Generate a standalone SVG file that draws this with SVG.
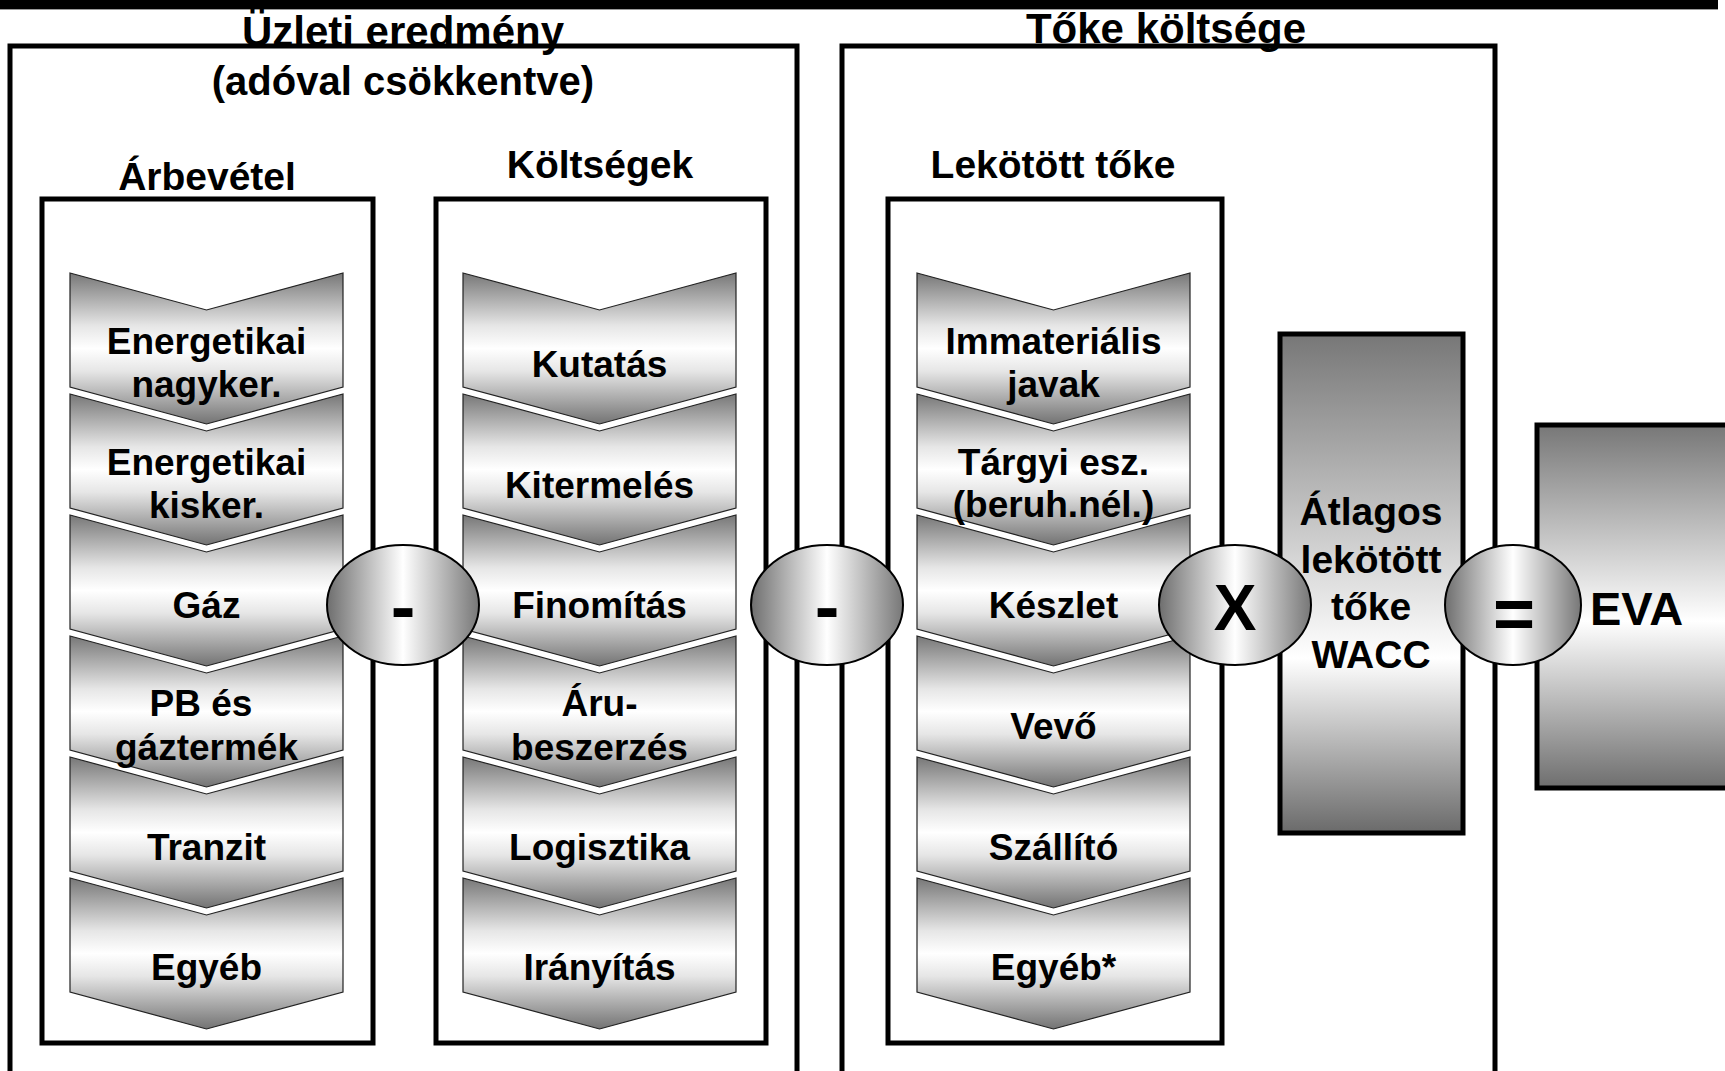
<svg xmlns="http://www.w3.org/2000/svg" xmlns:xlink="http://www.w3.org/1999/xlink" width="1725" height="1071" viewBox="0 0 1725 1071">
  <style>
    .frame { fill: none; stroke: #000; stroke-width: 5; }
    .t { font-family: "Liberation Sans", Arial, sans-serif; font-weight: bold; fill: #000; text-anchor: middle; }
    .title { font-size: 42px; }
    .sub { font-size: 39px; }
    .lbl { font-size: 37px; }
    .op { stroke: #000; stroke-width: 2; fill: url(#gOp); }
  </style>
  <defs>
    <linearGradient id="gChev" x1="0" y1="0" x2="0" y2="1">
      <stop offset="0" stop-color="#777"/>
      <stop offset="0.35" stop-color="#e6e6e6"/>
      <stop offset="0.5" stop-color="#fff"/>
      <stop offset="0.65" stop-color="#e6e6e6"/>
      <stop offset="1" stop-color="#737373"/>
    </linearGradient>
    <linearGradient id="gOp" x1="0" y1="0" x2="1" y2="0">
      <stop offset="0" stop-color="#6e6e6e"/>
      <stop offset="0.5" stop-color="#fff"/>
      <stop offset="1" stop-color="#777"/>
    </linearGradient>
    <linearGradient id="gWacc" x1="0" y1="0" x2="0" y2="1">
      <stop offset="0" stop-color="#777"/>
      <stop offset="0.65" stop-color="#fff"/>
      <stop offset="1" stop-color="#6a6a6a"/>
    </linearGradient>
    <linearGradient id="gEva" x1="0" y1="0" x2="0" y2="1">
      <stop offset="0" stop-color="#777"/>
      <stop offset="0.54" stop-color="#fff"/>
      <stop offset="1" stop-color="#6e6e6e"/>
    </linearGradient>
    <!-- downward chevron, 273 wide, 151 tall -->
    <path id="chev" d="M0,0 L136.5,37 L273,0 L273,114 L136.5,151 L0,114 Z" fill="url(#gChev)" stroke="#222" stroke-width="1.2"/>
  </defs>

  <rect width="1725" height="1071" fill="#fff"/>

  <!-- top rule -->
  <rect x="0" y="0" width="1718" height="9" fill="#000"/>
  <line x1="0" y1="9.5" x2="1718" y2="9.5" stroke="#9a9a9a" stroke-width="1"/>

  <!-- operating profit frame -->
  <g id="uzleti-eredmeny">
    <path class="frame" d="M10,1090 V46 H797 V1090"/>
    <text class="t title" x="403" y="46">Üzleti eredmény</text>
    <text class="t" style="font-size:40px" x="403" y="95">(adóval csökkentve)</text>
  </g>

  <!-- capital cost frame -->
  <g id="toke-koltsege">
    <path class="frame" d="M842,1090 V46 H1495 V1090"/>
    <text class="t title" x="1166" y="43">Tőke költsége</text>
  </g>

  <!-- revenue column -->
  <g id="arbevetel">
    <text class="t sub" x="207" y="190">Árbevétel</text>
    <rect class="frame" x="42" y="199" width="331" height="844"/>
    <use xlink:href="#chev" x="70" y="273"/>
    <use xlink:href="#chev" x="70" y="394"/>
    <use xlink:href="#chev" x="70" y="515"/>
    <use xlink:href="#chev" x="70" y="636"/>
    <use xlink:href="#chev" x="70" y="757"/>
    <use xlink:href="#chev" x="70" y="878"/>
    <text class="t lbl" x="206.5" y="354">Energetikai</text>
    <text class="t lbl" x="206.5" y="397">nagyker.</text>
    <text class="t lbl" x="206.5" y="475">Energetikai</text>
    <text class="t lbl" x="206.5" y="518">kisker.</text>
    <text class="t lbl" x="206.5" y="618">Gáz</text>
    <text class="t lbl" x="201" y="716">PB és</text>
    <text class="t lbl" x="206.5" y="760">gáztermék</text>
    <text class="t lbl" x="206.5" y="860">Tranzit</text>
    <text class="t lbl" x="206.5" y="980">Egyéb</text>
  </g>

  <!-- cost column -->
  <g id="koltsegek">
    <text class="t sub" x="600" y="178">Költségek</text>
    <rect class="frame" x="436" y="199" width="330" height="844"/>
    <use xlink:href="#chev" x="463" y="273"/>
    <use xlink:href="#chev" x="463" y="394"/>
    <use xlink:href="#chev" x="463" y="515"/>
    <use xlink:href="#chev" x="463" y="636"/>
    <use xlink:href="#chev" x="463" y="757"/>
    <use xlink:href="#chev" x="463" y="878"/>
    <text class="t lbl" x="599.5" y="377">Kutatás</text>
    <text class="t lbl" x="599.5" y="498">Kitermelés</text>
    <text class="t lbl" x="599.5" y="618">Finomítás</text>
    <text class="t lbl" x="599.5" y="716">Áru-</text>
    <text class="t lbl" x="599.5" y="760">beszerzés</text>
    <text class="t lbl" x="599.5" y="860">Logisztika</text>
    <text class="t lbl" x="599.5" y="980">Irányítás</text>
  </g>

  <!-- invested capital column -->
  <g id="lekotott-toke">
    <text class="t sub" x="1053" y="178">Lekötött tőke</text>
    <rect class="frame" x="888" y="199" width="334" height="844"/>
    <use xlink:href="#chev" x="917" y="273"/>
    <use xlink:href="#chev" x="917" y="394"/>
    <use xlink:href="#chev" x="917" y="515"/>
    <use xlink:href="#chev" x="917" y="636"/>
    <use xlink:href="#chev" x="917" y="757"/>
    <use xlink:href="#chev" x="917" y="878"/>
    <text class="t lbl" x="1053.5" y="354">Immateriális</text>
    <text class="t lbl" x="1053.5" y="397">javak</text>
    <text class="t lbl" x="1053.5" y="475">Tárgyi esz.</text>
    <text class="t lbl" x="1053.5" y="517">(beruh.nél.)</text>
    <text class="t lbl" x="1053.5" y="618">Készlet</text>
    <text class="t lbl" x="1053.5" y="739">Vevő</text>
    <text class="t lbl" x="1053.5" y="860">Szállító</text>
    <text class="t lbl" x="1053.5" y="980">Egyéb*</text>
  </g>

  <!-- WACC block -->
  <g id="wacc">
    <rect x="1280" y="334" width="183" height="499" fill="url(#gWacc)" stroke="#000" stroke-width="5"/>
  </g>

  <!-- EVA block -->
  <g id="eva">
    <rect x="1537" y="425" width="250" height="363" fill="url(#gEva)" stroke="#000" stroke-width="5"/>
    <text class="t" style="font-size:47px;text-anchor:start" x="1590" y="625">EVA</text>
  </g>

  <!-- arithmetic operators between the blocks -->
  <g id="operators">
    <g id="op-minus-1">
      <ellipse class="op" cx="403" cy="605" rx="76" ry="60"/>
      <text class="t" style="font-size:74px" x="403" y="632">-</text>
    </g>
    <g id="op-minus-2">
      <ellipse class="op" cx="827" cy="605" rx="76" ry="60"/>
      <text class="t" style="font-size:74px" x="827" y="632">-</text>
    </g>
    <g id="op-times">
      <ellipse class="op" cx="1235" cy="605" rx="76" ry="60"/>
      <text class="t" style="font-size:64px" x="1235" y="630">X</text>
    </g>
    <g id="op-equals">
      <ellipse class="op" cx="1513" cy="605" rx="68" ry="60"/>
      <text class="t" style="font-size:72px" x="1514" y="638">=</text>
    </g>
  </g>

  <!-- WACC block label, kept above the operator outlines -->
  <g id="wacc-label">
    <text class="t" style="font-size:39px" x="1371" y="525">Átlagos</text>
    <text class="t" style="font-size:39px" x="1371" y="573">lekötött</text>
    <text class="t" style="font-size:39px" x="1371" y="620">tőke</text>
    <text class="t" style="font-size:39px" x="1371" y="668">WACC</text>
  </g>
</svg>
